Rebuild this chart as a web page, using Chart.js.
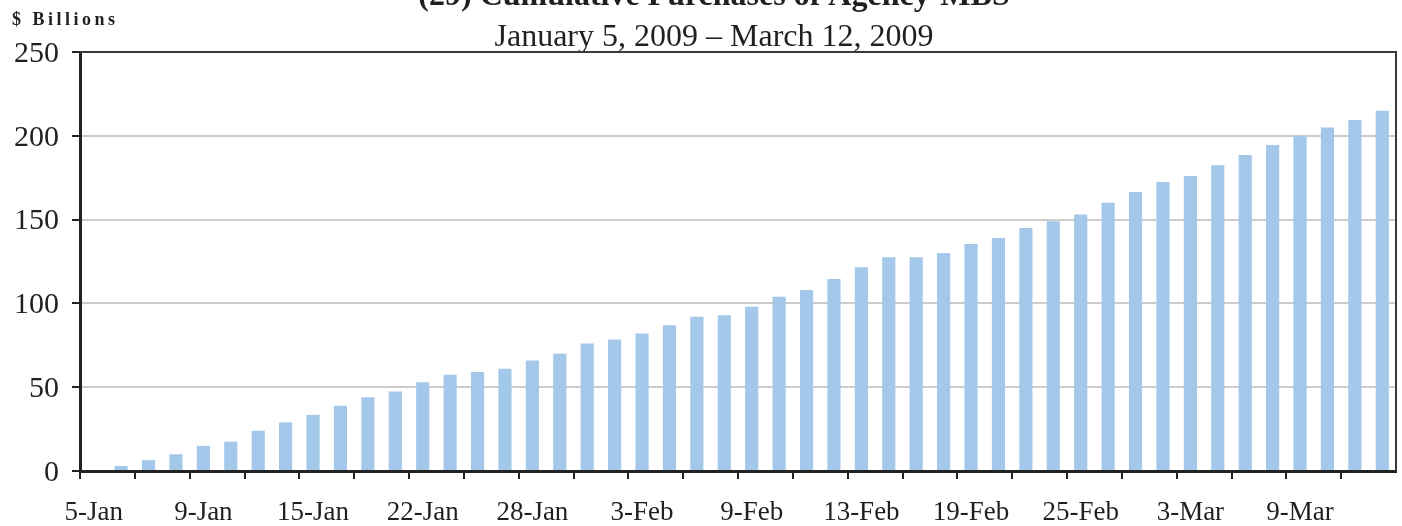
<!DOCTYPE html>
<html>
<head>
<meta charset="utf-8">
<script src="https://cdn.jsdelivr.net/npm/chart.js@4.4.1/dist/chart.umd.min.js"></script>
<style>
  html, body { margin: 0; padding: 0; background: #fff; overflow: hidden; }
  #wrap { position: absolute; left: 0; top: -19px; width: 1428px; height: 545px; }
</style>
</head>
<body>
<div id="wrap"><canvas id="canvasChart"></canvas></div>
<script>
var categories = ['5-Jan', '6-Jan', '7-Jan', '8-Jan', '9-Jan', '12-Jan', '13-Jan', '14-Jan', '15-Jan', '16-Jan',
    '20-Jan', '21-Jan', '22-Jan', '23-Jan', '26-Jan', '27-Jan', '28-Jan', '29-Jan', '30-Jan',
    '2-Feb', '3-Feb', '4-Feb', '5-Feb', '6-Feb', '9-Feb', '10-Feb', '11-Feb', '12-Feb', '13-Feb',
    '16-Feb', '17-Feb', '18-Feb', '19-Feb', '20-Feb', '23-Feb', '24-Feb', '25-Feb', '26-Feb', '27-Feb',
    '2-Mar', '3-Mar', '4-Mar', '5-Mar', '6-Mar', '9-Mar', '10-Mar', '11-Mar', '12-Mar'];

// cumulative purchases, $ billions
var purchases = [0, 3, 6.5, 10, 15, 17.5, 24, 29, 33.5, 39,
    44, 47.5, 53, 57.5, 59, 61, 66, 70, 76, 78.5,
    82, 87, 92, 93, 98, 104, 108, 114.5, 121.5, 127.5,
    127.5, 130, 135.5, 139, 145, 149, 153, 160, 166.5, 172.5,
    176, 182.5, 188.5, 194.5, 200, 205, 209.5, 215];

var yTicks = [0, 50, 100, 150, 200, 250];

var titleText = '(29) Cumulative Purchases of Agency-MBS';
var subtitleText = 'January 5, 2009 \u2013 March 12, 2009';
var unitText = '$ Billions';

var serif = 'Liberation Serif';
var ink = '#231f20';

// box round the plot and the units label
var framePlugin = {
    id: 'frame',
    afterDraw: function (chart) {
        var ctx = chart.ctx;
        var a = chart.chartArea;
        ctx.save();
        ctx.strokeStyle = '#3a3a3a';
        ctx.lineWidth = 2;
        ctx.beginPath();
        ctx.moveTo(a.left, a.top);
        ctx.lineTo(a.right, a.top);
        ctx.lineTo(a.right, a.bottom);
        ctx.stroke();
        ctx.fillStyle = ink;
        ctx.font = 'bold 18px "' + serif + '"';
        ctx.letterSpacing = '3.5px';
        ctx.textBaseline = 'alphabetic';
        ctx.fillText(unitText, 12, 44);
        ctx.restore();
    }
};

var chartConfig = {
    type: 'bar',
    data: {
        labels: categories,
        datasets: [{
            label: 'Cumulative purchases',
            data: purchases,
            backgroundColor: '#a3c8ea',
            borderWidth: 0,
            barPercentage: 0.48,
            categoryPercentage: 1
        }]
    },
    options: {
        responsive: true,
        maintainAspectRatio: false,
        animation: false,
        layout: { padding: 0 },
        plugins: {
            legend: { display: false },
            tooltip: { enabled: false },
            title: {
                display: true,
                text: titleText,
                color: ink,
                font: { family: serif, size: 32, weight: 'bold', lineHeight: 1 },
                padding: { top: 0, bottom: 11 }
            },
            subtitle: {
                display: true,
                text: subtitleText,
                color: ink,
                font: { family: serif, size: 32, lineHeight: 0.875 },
                padding: { top: 0, bottom: 0 }
            }
        },
        scales: {
            x: {
                offset: true,
                grid: {
                    offset: true,
                    drawOnChartArea: false,
                    tickLength: 8,
                    lineWidth: 2,
                    tickColor: function (c) { return c.index % 2 === 0 ? '#222' : 'rgba(0,0,0,0)'; }
                },
                border: { color: '#222', width: 3 },
                ticks: {
                    autoSkip: false,
                    maxRotation: 0,
                    minRotation: 0,
                    padding: 18,
                    color: ink,
                    font: { family: serif, size: 27 },
                    callback: function (v, i) { return i % 4 === 0 ? categories[i] : ''; }
                },
                afterFit: function (s) { s.height = 55; }
            },
            y: {
                min: 0,
                max: 250,
                afterBuildTicks: function (s) { s.ticks = yTicks.map(function (v) { return { value: v }; }); },
                grid: {
                    color: function (c) { return c.index === 0 || c.index === yTicks.length - 1 ? 'rgba(0,0,0,0)' : '#cccccc'; },
                    lineWidth: 2,
                    tickLength: 8,
                    tickColor: '#222'
                },
                border: { color: '#222', width: 3 },
                ticks: {
                    padding: 13,
                    labelOffset: 2,
                    color: ink,
                    font: { family: serif, size: 30 }
                },
                afterFit: function (s) { s.width = 80; }
            },
            // empty right-hand axis, only keeps a margin so the titles stay centred on the canvas
            yRight: {
                position: 'right',
                min: 0,
                max: 250,
                grid: { display: false },
                border: { display: false },
                ticks: { display: false },
                afterFit: function (s) { s.width = 32; }
            }
        }
    },
    plugins: [framePlugin]
};

var chartObject = new Chart(document.getElementById('canvasChart').getContext('2d'), chartConfig);
</script>
</body>
</html>
